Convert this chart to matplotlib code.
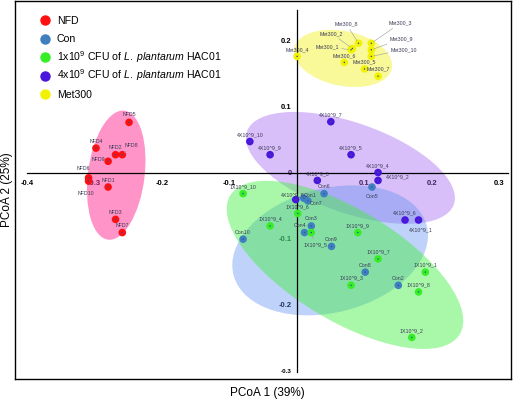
import matplotlib
matplotlib.use('Agg')
from matplotlib import pyplot as plt
from matplotlib.patches import Ellipse

plt.rcParams['font.family'] = ['Liberation Sans', 'DejaVu Sans']
plt.rcParams['mathtext.fontset'] = 'custom'
plt.rcParams['mathtext.rm'] = 'Liberation Sans'
plt.rcParams['mathtext.it'] = 'Liberation Sans:italic'

# ---- data ----
nfd_names = ['NFD1', 'NFD2', 'NFD3', 'NFD4', 'NFD5', 'NFD6', 'NFD7', 'NFD8', 'NFD9', 'NFD10']
nfd_x = [-0.280, -0.269, -0.269, -0.298, -0.249, -0.309, -0.259, -0.259, -0.280, -0.309]
nfd_y = [-0.021, 0.028, -0.070, 0.038, 0.077, -0.007, -0.090, 0.028, 0.018, -0.012]

con_names = ['Con1', 'Con2', 'Con3', 'Con4', 'Con5', 'Con6', 'Con7', 'Con8', 'Con9', 'Con10']
con_x = [0.010, 0.150, 0.021, 0.011, 0.111, 0.040, 0.016, 0.101, 0.051, -0.080]
con_y = [-0.038, -0.170, -0.080, -0.090, -0.021, -0.031, -0.042, -0.150, -0.111, -0.100]

low_names = ['1X10^9_%d' % i for i in range(1, 11)]
low_x = [0.190, 0.170, 0.080, -0.040, 0.021, 0.001, 0.120, 0.180, 0.090, -0.080]
low_y = [-0.150, -0.249, -0.170, -0.080, -0.090, -0.061, -0.130, -0.180, -0.090, -0.031]

high_names = ['4X10^9_%d' % i for i in range(1, 11)]
high_x = [0.180, 0.120, 0.030, 0.120, 0.080, 0.160, 0.050, -0.002, -0.040, -0.070]
high_y = [-0.071, -0.011, -0.011, 0.001, 0.028, -0.071, 0.078, -0.040, 0.028, 0.048]

met_names = ['Met300_%d' % i for i in range(1, 11)]
met_x = [0.080, 0.082, 0.110, 0.000, 0.100, 0.070, 0.120, 0.091, 0.110, 0.110]
met_y = [0.187, 0.189, 0.197, 0.177, 0.158, 0.168, 0.147, 0.197, 0.187, 0.177]

# group ellipses: centre x, centre y, width, height, angle
ell_nfd = (-0.268, -0.003, 0.084, 0.197, -7)
ell_high = (0.079, 0.008, 0.326, 0.136, -20)
ell_con = (0.049, -0.117, 0.296, 0.188, 15)
ell_low = (0.071, -0.139, 0.400, 0.167, -32)
ell_met = (0.068, 0.174, 0.148, 0.083, -12)

xticks = [-0.4, -0.3, -0.2, -0.1, 0.1, 0.2, 0.3]
yticks = [0.2, 0.1, 0, -0.1, -0.2, -0.3]

legend_labels = ['NFD', 'Con',
                 r'1x10$^9$ CFU of $\it{L.\ plantarum}$ HAC01',
                 r'4x10$^9$ CFU of $\it{L.\ plantarum}$ HAC01',
                 'Met300']

# ---- styles ----
col_nfd, col_con, col_low, col_high, col_met = '#ff1010', '#3f7fbf', '#35ee25', '#4a16dc', '#f2f200'

# label offsets in pixels (dx right, dy down); default is just above the point
lab_off = {
    'NFD8': (9, -9, True), 'NFD9': (-10, -2, False), 'NFD6': (-5, -9, False),
    'NFD10': (-3, 12, False), 'NFD5': (0, -8, False),
    '4X10^9_2': (20, -4, False), '4X10^9_1': (2, 10, False), '4X10^9_8': (-3, -5, False),
    '1X10^9_5': (4, 12, True),
    'Con5': (0, 9, False), 'Con1': (6, -3, False), 'Con7': (8, 3, False), 'Con4': (-4, -7, False),
    'Met300_8': (-12, -19, True), 'Met300_3': (29, -20, True), 'Met300_9': (30, -11, True),
    'Met300_10': (33, -7, True), 'Met300_2': (-21, -15, True), 'Met300_1': (-24, -3, True),
}

fig = plt.figure(figsize=(5.13, 4.01), dpi=100)
ax = fig.add_axes([15 / 513, 22 / 401, 496 / 513, 378 / 401])
ax.set_xlim(-0.418, 0.317)
ax.set_ylim(-0.312, 0.261)
ax.set_xticks([])
ax.set_yticks([])
for s in ax.spines.values():
    s.set_linewidth(1.0)

# tick labels (drawn first so ellipses can cover them)
for v in xticks:
    ax.annotate('%g' % v, xy=(v, 0), xytext=(0, -7.5), textcoords='offset points',
                ha='center', va='center', fontsize=5.5, fontweight='bold', zorder=1)
for v in yticks:
    ax.annotate('%g' % v, xy=(0, v), xytext=(-4, 0), textcoords='offset points',
                ha='right', va='center', fontsize=5.5 if v != -0.3 else 4.5,
                fontweight='bold', zorder=1)

for e, c, a in [(ell_nfd, '#ff3399', 0.52), (ell_high, '#a060f0', 0.40),
                (ell_con, '#6090f0', 0.40), (ell_low, '#40f040', 0.45),
                (ell_met, '#f0f000', 0.40)]:
    ax.add_patch(Ellipse((e[0], e[1]), e[2], e[3], angle=e[4], facecolor=c,
                         edgecolor='none', alpha=a, zorder=2))

# axis lines through the origin
ax.plot([-0.4, 0.312], [0, 0], color='black', lw=0.9, zorder=3)
ax.plot([0, 0], [-0.301, 0.247], color='black', lw=0.9, zorder=3)

colors = [col_nfd, col_con, col_low, col_high, col_met]
groups = [(nfd_names, nfd_x, nfd_y), (con_names, con_x, con_y),
          (low_names, low_x, low_y), (high_names, high_x, high_y),
          (met_names, met_x, met_y)]
for (names, xs, ys), c in zip(groups, colors):
    ax.scatter(xs, ys, s=30, color=c, edgecolors='none', zorder=4)
    ax.scatter(xs, ys, s=1.2, color='#3050a0', edgecolors='none', zorder=5)
    for n, x, y in zip(names, xs, ys):
        dx, dy, lead = lab_off.get(n, (0, -7, False))
        kw = {}
        if lead:
            kw['arrowprops'] = dict(arrowstyle='-', color='#9a9a9a', lw=0.4,
                                    shrinkA=0, shrinkB=2)
        ax.annotate(n, xy=(x, y), xytext=(dx * 0.72, -dy * 0.72),
                    textcoords='offset points', ha='center', va='center',
                    fontsize=3.8, color='#3a3a55', zorder=6, **kw)

# legend drawn by hand so the rows are evenly spaced
for i, (lab, c) in enumerate(zip(legend_labels, colors)):
    py = 20 + 18.5 * i
    ax.plot([(45 - 15) / 496], [(379 - py) / 378], 'o', color=c, markersize=6.5,
            transform=ax.transAxes, clip_on=False, zorder=7)
    ax.text((57 - 15) / 496, (379 - py - 3.7) / 378, lab, transform=ax.transAxes,
            ha='left', va='baseline', fontsize=7.6, zorder=7)

fig.text(267 / 513, 1 - 393 / 401, 'PCoA 1 (39%)', ha='center', va='center', fontsize=8.5)
fig.text(7 / 513, 1 - 190 / 401, 'PCoA 2 (25%)', ha='center', va='center',
         fontsize=8.5, rotation=90)

fig.savefig('out.png', dpi=100)
